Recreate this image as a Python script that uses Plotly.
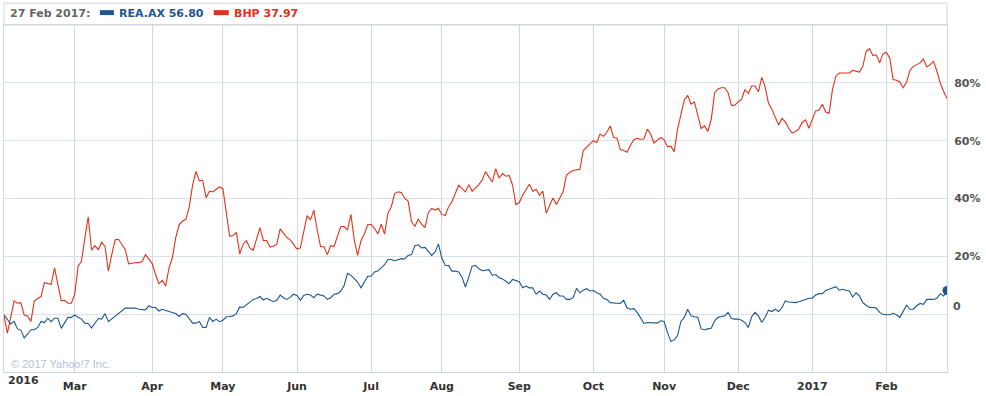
import pandas as pd
import plotly.graph_objects as go

# ---- data -------------------------------------------------------------
START_DATE = "2016-02-01"
END_DATE = "2017-02-27"
# trading days (weekdays) shown on the ordinal time axis
DATES = pd.bdate_range(START_DATE, END_DATE)

# % change since start
BHP = [
    -0.6, -6.6, -1.0, 4.6, 3.8, 4.0, -0.3, -0.6, -2.5, 4.6,
    5.4, 6.1, 10.9, 10.5, 10.3, 16.0, 10.3, 4.6, 4.8, 3.8,
    3.8, 6.9, 16.6, 18.3, 26.3, 33.7, 22.1, 23.7, 22.3, 24.9,
    23.4, 14.9, 20.6, 25.7, 25.9, 24.0, 22.3, 17.4, 17.7, 17.8,
    17.9, 18.1, 20.6, 18.9, 17.5, 13.7, 10.5, 11.7, 9.7, 16.0,
    19.5, 26.5, 30.9, 32.2, 32.8, 37.1, 44.6, 49.4, 46.1, 46.3,
    40.3, 42.5, 42.3, 43.2, 44.0, 43.4, 35.4, 26.9, 27.2, 28.3,
    20.8, 24.2, 25.4, 22.9, 22.1, 26.5, 29.9, 25.5, 25.5, 23.2,
    23.5, 24.2, 29.5, 28.0, 26.5, 25.7, 24.0, 22.5, 22.9, 28.0,
    34.1, 32.6, 36.0, 29.1, 23.3, 23.3, 20.6, 23.7, 23.4, 26.9,
    30.3, 30.3, 29.1, 34.5, 25.7, 20.3, 25.4, 27.7, 30.9, 31.1,
    29.7, 27.7, 31.1, 27.7, 34.9, 37.1, 41.7, 42.3, 42.1, 40.0,
    39.1, 32.0, 30.3, 32.9, 31.1, 29.9, 35.2, 36.6, 36.0, 36.6,
    34.5, 34.1, 37.1, 38.9, 41.7, 44.6, 43.4, 42.3, 44.8, 42.5,
    43.7, 44.8, 46.5, 49.3, 47.4, 45.7, 50.3, 47.1, 48.6, 47.7,
    48.0, 44.6, 37.9, 38.6, 41.1, 43.2, 44.9, 42.5, 43.2, 41.1,
    42.6, 34.9, 37.9, 40.2, 37.9, 40.0, 42.3, 48.0, 49.1, 49.7,
    49.9, 50.1, 56.6, 57.7, 58.9, 60.0, 59.4, 62.3, 61.5, 62.9,
    65.1, 61.1, 60.9, 56.9, 56.6, 56.0, 58.3, 60.3, 60.8, 60.5,
    60.6, 64.0, 62.3, 59.2, 60.2, 61.1, 60.3, 57.9, 58.1, 56.2,
    64.0, 69.1, 74.1, 75.7, 72.6, 73.4, 69.1, 64.2, 65.1, 63.2,
    67.4, 76.6, 77.9, 78.3, 78.3, 76.6, 72.2, 72.3, 73.4, 74.3,
    77.7, 76.3, 78.9, 78.9, 76.9, 81.9, 78.6, 72.9, 70.9, 68.0,
    65.4, 67.7, 66.5, 64.3, 62.6, 63.2, 64.0, 66.3, 67.2, 64.3,
    67.4, 70.3, 70.6, 72.6, 69.9, 69.5, 77.7, 82.3, 83.4, 83.4,
    83.4, 83.4, 84.3, 84.0, 83.7, 85.7, 90.9, 91.8, 89.4, 89.7,
    86.9, 90.1, 90.5, 88.6, 81.1, 80.9, 80.3, 78.3, 80.2, 84.3,
    85.7, 86.3, 86.9, 88.2, 85.5, 86.3, 87.4, 84.0, 80.0, 77.0,
    74.6,
]

REA = [
    -0.2, -1.7, -3.4, -2.5, -5.1, -5.5, -8.2, -6.9, -5.4, -5.4,
    -4.6, -2.5, -2.9, -1.4, -2.6, -1.4, -1.4, -4.9, -2.9, -1.1,
    -1.1, -0.3, -1.1, -1.7, -3.1, -3.2, -4.8, -3.1, -1.5, -1.7,
    0.2, -2.6, -1.7, -0.9, 0.2, 1.1, 2.1, 2.1, 2.1, 2.1,
    1.7, 1.5, 1.5, 2.9, 2.3, 2.3, 1.1, 1.7, 1.2, 0.9,
    0.6, 0.2, -0.8, 0.2, 0.0, -1.5, -3.1, -3.1, -2.5, -4.6,
    -4.6, -1.1, -2.5, -1.7, -2.6, -2.1, -0.9, -0.8, -0.6, 0.2,
    2.5, 2.3, 3.2, 4.3, 5.1, 5.4, 6.1, 4.9, 5.5, 4.9,
    4.3, 4.8, 6.6, 5.7, 5.1, 5.9, 6.9, 6.5, 4.8, 6.5,
    6.9, 6.6, 5.7, 6.9, 6.5, 6.3, 5.1, 5.7, 6.9, 7.1,
    8.0, 9.9, 14.1, 13.5, 12.3, 11.1, 9.1, 11.2, 13.1, 13.1,
    14.6, 14.9, 16.0, 17.1, 18.9, 18.9, 18.5, 18.9, 19.2, 19.1,
    20.3, 20.6, 23.7, 24.0, 22.9, 23.1, 21.7, 20.3, 21.5, 24.3,
    19.4, 16.9, 16.8, 14.9, 14.9, 14.6, 12.8, 9.4, 12.8, 16.6,
    16.9, 15.7, 15.0, 15.1, 15.4, 13.4, 13.7, 12.6, 12.2, 11.4,
    10.5, 12.0, 11.7, 11.2, 9.1, 9.7, 9.1, 9.1, 6.9, 8.0,
    6.9, 6.6, 5.1, 6.9, 7.4, 6.3, 6.3, 5.1, 5.1, 5.7,
    8.9, 7.4, 8.3, 8.8, 8.0, 8.2, 7.4, 6.9, 5.5, 5.1,
    4.0, 3.8, 3.8, 3.7, 4.8, 2.1, 1.7, 1.9, 0.6, -1.2,
    -3.2, -2.9, -2.9, -2.9, -3.1, -2.3, -2.5, -6.3, -9.4, -8.9,
    -7.4, -2.5, -1.1, 1.7, -0.6, -0.9, -1.1, -5.1, -5.4, -5.1,
    -4.9, -2.3, -1.1, -0.8, -0.6, 0.6, -1.5, -1.7, -1.7, -2.1,
    -2.9, -4.6, -0.9, 0.6, -0.6, -2.9, -1.1, 1.4, 0.9, 1.7,
    0.9, 2.3, 4.6, 4.2, 4.0, 4.0, 4.3, 4.6, 5.1, 5.5,
    5.5, 6.6, 7.1, 7.1, 8.2, 8.6, 9.1, 9.5, 8.3, 8.6,
    8.3, 8.0, 5.9, 7.4, 6.3, 4.0, 3.1, 2.3, 2.3, 2.1,
    0.6, 0.0, -0.2, -0.2, 0.3, -0.2, -1.1, 1.1, 3.1, 1.7,
    1.7, 2.9, 3.7, 3.4, 5.1, 5.1, 5.1, 5.5, 7.1, 6.3,
    8.2,
]

X_TICK_DATES = ["2016-03-01", "2016-04-01", "2016-05-02", "2016-06-01",
                "2016-07-01", "2016-08-01", "2016-09-01", "2016-10-03",
                "2016-11-01", "2016-12-01", "2017-01-02", "2017-02-01"]
X_TICK_LABELS = ["Mar", "Apr", "May", "Jun", "Jul", "Aug", "Sep", "Oct",
                 "Nov", "Dec", "2017", "Feb"]
FIRST_LABEL = "2016"
Y_TICKS = [0, 20, 40, 60, 80]
Y_TICK_LABELS = ["", "20%", "40%", "60%", "80%"]

HEADER_DATE = "27 Feb 2017:"
REA_NAME, REA_LAST = "REA.AX", "56.80"
BHP_NAME, BHP_LAST = "BHP", "37.97"
COPYRIGHT = "© 2017 Yahoo!7 Inc."

# ---- styling ----------------------------------------------------------
W, H = 986, 396
ML, MR, MT, MB = 3, 39, 25, 21
BLUE = "#1d5591"
RED = "#e2321b"
GRID_X = "#cdd8e3"
GRID_Y = "#dbe1e8"
FONT = "DejaVu Sans"

PW = W - ML - MR
PH = H - MT - MB


def px(xp):
    return (xp - ML) / PW


def py(yp):
    return (H - MB - yp) / PH


fig = go.Figure()
fig.add_trace(go.Scatter(x=DATES, y=BHP, mode="lines",
                         line=dict(color=RED, width=1.1), name=BHP_NAME,
                         hoverinfo="skip"))
fig.add_trace(go.Scatter(x=DATES, y=REA, mode="lines",
                         line=dict(color=BLUE, width=1.1), name=REA_NAME,
                         hoverinfo="skip"))
fig.add_trace(go.Scatter(x=[DATES[-1]], y=[REA[-1]], mode="markers",
                         marker=dict(color=BLUE, size=9), hoverinfo="skip",
                         showlegend=False))

fig.update_layout(
    width=W, height=H,
    margin=dict(l=ML, r=MR, t=MT, b=MB, pad=0),
    paper_bgcolor="white", plot_bgcolor="white",
    showlegend=False,
    font=dict(family=FONT),
    xaxis=dict(
        type="date",
        range=[DATES[0], DATES[-1]],
        rangebreaks=[dict(bounds=["sat", "mon"])],
        tickmode="array", tickvals=X_TICK_DATES, ticktext=X_TICK_LABELS,
        showgrid=True, gridcolor=GRID_X, gridwidth=1,
        showline=True, linecolor=GRID_X, linewidth=1, mirror=True,
        ticks="", ticklabelstandoff=4,
        tickfont=dict(family=FONT, size=11, color="#333333", weight="bold"),
        zeroline=False, fixedrange=True,
    ),
    yaxis=dict(
        side="right", range=[-20, 100],
        tickmode="array", tickvals=Y_TICKS, ticktext=Y_TICK_LABELS,
        showgrid=True, gridcolor=GRID_Y, gridwidth=1,
        showline=True, linecolor=GRID_X, linewidth=1, mirror=True,
        ticks="", ticklabelstandoff=4,
        tickfont=dict(family=FONT, size=11, color="#555555", weight="bold"),
        zeroline=False, fixedrange=True,
    ),
)

shapes = [
    # header box
    dict(type="rect", xref="paper", yref="paper",
         x0=px(3), x1=px(947), y0=py(25), y1=py(3),
         line=dict(color="#d6d6d6", width=1), fillcolor="rgba(0,0,0,0)",
         layer="above"),
    # legend swatches
    dict(type="rect", xref="paper", yref="paper",
         x0=px(99), x1=px(113), y0=py(15), y1=py(10),
         line=dict(width=0), fillcolor=BLUE),
    dict(type="rect", xref="paper", yref="paper",
         x0=px(213), x1=px(228), y0=py(15), y1=py(10),
         line=dict(width=0), fillcolor=RED),
]
fig.update_layout(shapes=shapes)

hdr_font = dict(family=FONT, size=11, weight="bold")
annotations = [
    dict(text=HEADER_DATE, x=px(7), y=py(13), xref="paper", yref="paper",
         xanchor="left", yanchor="middle", showarrow=False,
         font=dict(hdr_font, color="#666666")),
    dict(text=f"{REA_NAME} {REA_LAST}", x=px(116), y=py(13), xref="paper",
         yref="paper", xanchor="left", yanchor="middle", showarrow=False,
         font=dict(hdr_font, color=BLUE)),
    dict(text=f"{BHP_NAME} {BHP_LAST}", x=px(231), y=py(13), xref="paper",
         yref="paper", xanchor="left", yanchor="middle", showarrow=False,
         font=dict(hdr_font, color=RED)),
    dict(text=FIRST_LABEL, x=px(5), y=py(384), xref="paper", yref="paper",
         xanchor="left", yanchor="middle", showarrow=False,
         font=dict(family=FONT, size=11, color="#333333", weight="bold")),
    dict(text="0", x=px(951), y=0, xref="paper", yref="y",
         xanchor="left", yanchor="middle", yshift=8, showarrow=False,
         font=dict(family=FONT, size=11, color="#555555", weight="bold")),
    dict(text=COPYRIGHT, x=px(8), y=py(367), xref="paper", yref="paper",
         xanchor="left", yanchor="middle", showarrow=False,
         font=dict(family="Liberation Sans", size=11, color="#b3c2d2")),
]
fig.update_layout(annotations=annotations)

fig.write_html("out.html")
